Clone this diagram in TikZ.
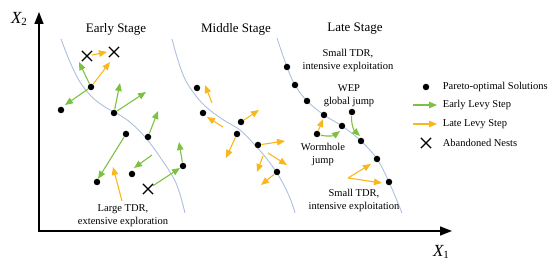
\documentclass[tikz,border=0pt]{standalone}
\usepackage{fontspec}
\setmainfont{Liberation Serif}
\usetikzlibrary{arrows.meta,shapes.misc}
\definecolor{levygreen}{RGB}{124,193,66}
\definecolor{levyorange}{RGB}{249,183,28}
\definecolor{frontblue}{RGB}{172,192,222}
\begin{document}
\begin{tikzpicture}[x=1pt, y=-1pt, line width=1.1pt,
  every node/.style={font=\fontsize{10.5}{13}\selectfont, align=center},
  stage/.style={font=\fontsize{13}{15}\selectfont},
  axislab/.style={font=\fontsize{17}{19}\selectfont\itshape},
  dot/.style={circle, fill=black, inner sep=0pt, minimum size=6.5pt},
  nest/.style={cross out, draw=black, line width=1.2pt, inner sep=0pt, minimum size=9pt},
  early/.style={levygreen, -{Triangle[length=8pt,width=6.5pt]}},
  late/.style={levyorange, -{Triangle[length=8pt,width=6.5pt]}},
  front/.style={frontblue, line width=0.9pt}]
  \useasboundingbox (0,0) rectangle (550,261);
  \coordinate (ytip) at (39,12);
  \coordinate (orig) at (39,231);
  \coordinate (xtip) at (452,231);
  \draw[line width=1.5pt, {Triangle[length=12pt,width=9pt]}-{Triangle[length=12pt,width=9pt]}] (ytip) -- (orig) -- (xtip);
  \node[axislab] (x2) at (19,19) {X\raisebox{-0.2ex}{\upshape\fontsize{11}{12}\selectfont 2}};
  \node[axislab] (x1) at (441,252) {X\raisebox{-0.2ex}{\upshape\fontsize{11}{12}\selectfont 1}};
  \draw[front] plot[smooth, tension=0.6] coordinates {(61,39) (70,62) (80,82) (92,97) (105,107) (118,114) (131,123) (145,137) (160,157) (176,183) (185,213)};
  \draw[front] plot[smooth, tension=0.6] coordinates {(172,39) (177,57) (184,77) (193,92) (205,106) (222,119) (240,130) (253,143) (267,159) (280,178) (290,198) (295,213)};
  \draw[front] plot[smooth, tension=0.6] coordinates {(277,38) (287,67) (295,85) (307,101) (324,115) (342,126) (361,141) (377,159) (389,182) (402,213)};
  \node[stage] (early) at (116,29) {Early Stage};
  \node[stage] (middle) at (236,29) {Middle Stage};
  \node[stage] (late) at (355,29) {Late Stage};
  \foreach \n/\x/\y in {e1/91/87, e2/61/110, e3/114/113, e4/126/134, e5/148/137, e6/183/166, e7/132/174, e8/97/182,
    m1/197/88, m2/203/113, m3/241/122, m4/237/134, m5/258/145, m6/277/172,
    l1/287/67, l2/295/85, l3/307/101, l4/324/115, l5/342/126, l6/361/141, l7/377/159, l8/389/182, lw/317/134, lp/352/112}
    \node[dot] (\n) at (\x,\y) {};
  \foreach \n/\x/\y in {n1/87/56, n2/114/52, n3/148/189}
    \node[nest] (\n) at (\x,\y) {};
  \coordinate (gs) at (152,155);
  \coordinate (os1) at (122,201);
  \foreach \s/\t/\x/\y in {e1/ge1/79/62, e1/ge2/65/105, e3/ge3/120/83, e3/ge4/146/92, e5/ge5/158/111,
    e4/ge6/98/179, n3/ge7/180/168, e6/ge8/179/142, gs/ge9/134/168} {
    \coordinate (\t) at (\x,\y);
    \draw[early] (\s) -- (\t);
  }
  \coordinate (os2) at (212,103);
  \coordinate (os3) at (223,127);
  \coordinate (os4) at (263,156);
  \coordinate (os5) at (268,153);
  \coordinate (os6) at (348,178);
  \foreach \s/\t/\x/\y in {e1/oe1/110/62, n1/oe2/107/52, os1/oe3/113/167,
    os2/om1/205/85, os3/om2/207/117, m3/om3/259/110, m4/om4/226/158, m5/om5/285/141,
    os4/om6/257/172, os5/om7/287/165, m6/om8/261/185,
    lw/ol1/323/119, os6/ol2/371/164, os6/ol3/382/183} {
    \coordinate (\t) at (\x,\y);
    \draw[late] (\s) -- (\t);
  }
  \coordinate (wj) at (340,131);
  \coordinate (wp) at (360,136);
  \draw[early] (lw) to[bend right=25] (wj);
  \draw[early] (lp) to[bend right=25] (wp);
  \node (tdrlarge) at (123,216) {Large TDR,\\extensive exploration};
  \node (tdrtop) at (348,60) {Small TDR,\\intensive exploitation};
  \node (wep) at (349,96) {WEP\\global jump};
  \node (worm) at (323,154) {Wormhole\\jump};
  \node (tdrbot) at (354,200) {Small TDR,\\intensive exploitation};
  \node[dot] (kdot) at (426,87) {};
  \node[anchor=west] (kdottxt) at (439,87) {Pareto-optimal Solutions};
  \coordinate (kg1) at (413,105);
  \coordinate (kg2) at (437,105);
  \draw[early] (kg1) -- (kg2);
  \node[anchor=west] (kgtxt) at (439,105) {Early Levy Step};
  \coordinate (ko1) at (413,124);
  \coordinate (ko2) at (437,124);
  \draw[late] (ko1) -- (ko2);
  \node[anchor=west] (kotxt) at (439,124) {Late Levy Step};
  \node[nest] (knest) at (426,143) {};
  \node[anchor=west] (kntxt) at (439,143) {Abandoned Nests};
\end{tikzpicture}
\end{document}
